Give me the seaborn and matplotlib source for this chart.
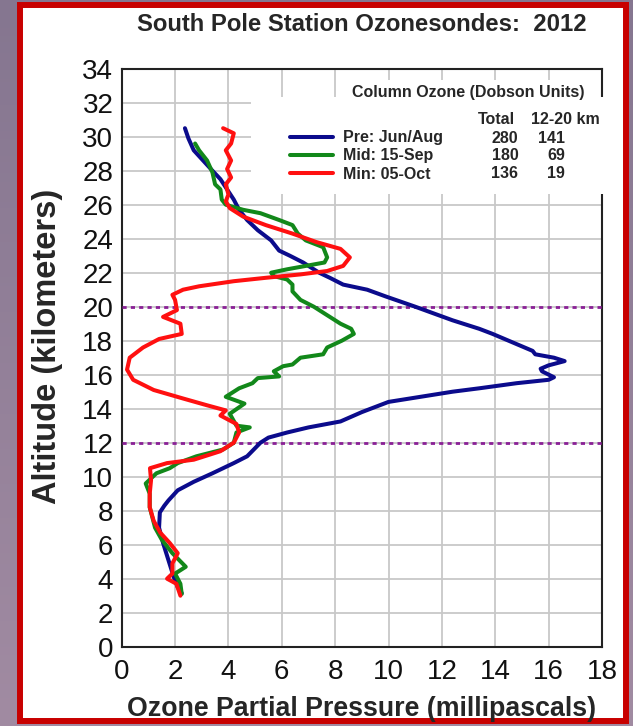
import numpy as np
import pandas as pd
import matplotlib
matplotlib.use("Agg")
import matplotlib.pyplot as plt
from matplotlib.patches import Rectangle
from matplotlib.lines import Line2D
import seaborn as sns

# profile readings (ozone partial pressure mPa, altitude km), bottom -> top
pre_mpa = [2.25, 2.1, 1.95, 1.75, 1.55, 1.4, 1.43, 1.6, 1.75, 2.1, 2.7, 3.4, 4.2, 4.7,
           5.2, 5.5, 6.2, 7.0, 8.2, 9.0, 10.0, 11.2, 12.4, 13.4, 14.8, 16.0, 16.2, 15.75,
           15.7, 16.0, 16.6, 16.2, 15.5, 15.4, 15.1, 14.5, 13.9, 13.4, 12.4, 11.0, 9.9,
           9.2, 8.3, 7.8, 7.4, 6.8, 6.3, 5.9, 5.6, 5.1, 4.7, 4.4, 4.2, 3.95, 3.7, 3.4,
           3.05, 2.7, 2.5, 2.37]
pre_km = [3.15, 3.5, 4.1, 5.1, 6.1, 7.0, 7.9, 8.3, 8.6, 9.2, 9.7, 10.2, 10.8, 11.2,
          12.0, 12.3, 12.6, 12.9, 13.25, 13.8, 14.4, 14.7, 15.0, 15.2, 15.5, 15.7, 15.85,
          16.2, 16.35, 16.55, 16.8, 17.0, 17.2, 17.4, 17.6, 18.0, 18.4, 18.7, 19.2, 20.0,
          20.6, 21.0, 21.3, 21.7, 22.0, 22.6, 23.0, 23.3, 23.9, 24.5, 25.1, 25.7, 26.3,
          26.9, 27.5, 28.0, 28.6, 29.2, 29.9, 30.5]

mid_mpa = [2.25, 2.2, 2.0, 2.4, 1.9, 1.5, 1.25, 1.05, 1.05, 0.9, 1.3, 1.8, 2.1, 2.8,
           3.8, 4.2, 4.3, 4.8, 4.3, 4.05, 4.6, 3.9, 4.4, 4.9, 5.1, 5.9, 5.7, 6.05, 6.4,
           6.7, 7.55, 7.7, 8.25, 8.7, 8.6, 8.2, 7.6, 7.2, 6.7, 6.4, 6.4, 6.2, 5.7, 5.6,
           6.2, 6.9, 7.6, 7.7, 7.55, 6.9, 6.6, 6.4, 5.9, 5.2, 4.55, 3.9, 3.75, 3.7, 3.5,
           3.4, 3.2, 2.9, 2.75]
mid_km = [3.1, 3.7, 4.3, 4.7, 5.5, 6.3, 7.0, 8.2, 9.0, 9.6, 10.2, 10.5, 10.8, 11.2,
          11.6, 12.0, 12.6, 12.9, 13.0, 13.7, 14.3, 14.7, 15.2, 15.5, 15.8, 15.9, 16.2,
          16.5, 16.6, 17.0, 17.2, 17.6, 18.0, 18.4, 18.7, 19.0, 19.6, 20.0, 20.4, 20.9,
          21.3, 21.6, 21.8, 22.0, 22.2, 22.4, 22.6, 22.9, 23.5, 23.9, 24.3, 24.8, 25.1,
          25.5, 25.7, 26.0, 26.3, 26.9, 27.2, 27.9, 28.6, 29.2, 29.6]

min_mpa = [2.2, 2.05, 1.7, 1.9, 1.9, 2.1, 1.8, 1.45, 1.2, 1.05, 1.05, 1.1, 1.06, 1.7,
           2.7, 3.7, 4.2, 4.4, 4.3, 3.7, 3.9, 3.2, 2.3, 1.2, 0.43, 0.2, 0.3, 0.8, 1.4,
           2.25, 2.2, 1.55, 2.07, 2.0, 1.9, 2.3, 2.9, 4.2, 5.4, 6.7, 7.7, 8.3, 8.55, 8.2,
           7.3, 6.4, 5.4, 4.55, 4.05, 3.9, 4.0, 3.9, 4.1, 3.95, 4.1, 3.9, 4.1, 4.2, 3.8]
min_km = [3.0, 3.7, 4.0, 4.3, 4.9, 5.5, 6.1, 6.7, 7.4, 8.2, 9.0, 9.8, 10.5, 10.8,
          11.0, 11.5, 12.0, 12.6, 13.1, 13.6, 13.9, 14.2, 14.6, 15.1, 15.7, 16.3, 17.0,
          17.6, 18.1, 18.4, 19.0, 19.4, 19.8, 20.4, 20.7, 21.0, 21.2, 21.5, 21.7, 21.9,
          22.1, 22.4, 22.9, 23.4, 23.8, 24.3, 24.8, 25.3, 25.8, 26.2, 26.6, 27.2, 27.6,
          28.1, 28.6, 29.2, 29.6, 30.2, 30.5]

profiles = ["Pre: Jun/Aug", "Mid: 15-Sep", "Min: 05-Oct"]
colors = ["#0b0b8c", "#12881a", "#ff1010"]
total_du = ["280", "180", "136"]
layer_du = ["141", "69", "19"]
boundaries_km = [12, 20]

df = pd.concat([
    pd.DataFrame({"pressure": pre_mpa, "altitude": pre_km, "profile": profiles[0]}),
    pd.DataFrame({"pressure": mid_mpa, "altitude": mid_km, "profile": profiles[1]}),
    pd.DataFrame({"pressure": min_mpa, "altitude": min_km, "profile": profiles[2]}),
], ignore_index=True)

sns.set_style("whitegrid", {"grid.color": "#c8c8c8", "axes.edgecolor": "black"})
plt.rcParams["font.family"] = ["Liberation Sans", "DejaVu Sans"]

fig = plt.figure(figsize=(6.33, 7.26), dpi=100)

# purple slide background with a vertical gradient
bg = fig.add_axes([0, 0, 1, 1], zorder=-10)
grad = np.linspace(0, 1, 256).reshape(-1, 1)
cmap = matplotlib.colors.LinearSegmentedColormap.from_list("bg", ["#857690", "#a18ba2"])
bg.imshow(grad, aspect="auto", cmap=cmap, extent=[0, 1, 0, 1], origin="upper")
bg.set_axis_off()

# white panel with a red frame
W, H = 633.0, 726.0
fig.patches.append(Rectangle((20 / W, 5 / H), 606 / W, 716 / H, transform=fig.transFigure,
                             facecolor="white", edgecolor="#c80000", linewidth=4.3, zorder=-5))

ax = fig.add_axes([121.7 / W, 79.3 / H, 480.3 / W, 578 / H])
ax.set_facecolor("white")

sns.lineplot(data=df, x="pressure", y="altitude", hue="profile", palette=colors,
             hue_order=profiles, sort=False, estimator=None, linewidth=2.9,
             legend=False, ax=ax, zorder=4)

for b in boundaries_km:
    ax.axhline(b, color="#8a2096", linewidth=2, linestyle=(0, (1.5, 1.5)), zorder=3)

ax.set_xlim(0, 18)
ax.set_ylim(0, 34)
ax.set_xticks(range(0, 19, 2))
ax.set_yticks(range(0, 35, 2))
ax.tick_params(axis="both", length=0, labelsize=20, colors="#111111")
ax.tick_params(axis="x", pad=9)
ax.tick_params(axis="y", pad=6)
ax.grid(True, color="#c8c8c8", linewidth=1.3)
ax.set_axisbelow(True)
for s in ax.spines.values():
    s.set_color("#222222")
    s.set_linewidth(1.5)

ax.set_xlabel("Ozone Partial Pressure (millipascals)", fontsize=19.3, fontweight="bold")
ax.set_ylabel("Altitude (kilometers)", fontsize=23.5, fontweight="bold")
ax.xaxis.set_label_coords(0.5, -0.085)
ax.yaxis.set_label_coords(-0.122, 0.52)
ax.set_title("South Pole Station Ozonesondes:  2012", fontsize=17.2, fontweight="bold", pad=27)

# white boxes that hold the legend / column-ozone table
ax.add_patch(Rectangle((0.269, 0.783), 0.735, 0.168, transform=ax.transAxes,
                       facecolor="white", edgecolor="none", zorder=2.6, clip_on=False))
ax.add_patch(Rectangle((0.471, 0.951), 0.523, 0.029, transform=ax.transAxes,
                       facecolor="white", edgecolor="none", zorder=2.6, clip_on=False))

tkw = dict(transform=ax.transAxes, fontsize=11.5, fontweight="bold", va="center", zorder=5)
ax.text(0.721, 0.958, "Column Ozone (Dobson Units)", ha="center", **tkw)
ax.text(0.78, 0.912, "Total", ha="center", **tkw)
ax.text(0.923, 0.912, "12-20 km", ha="center", **tkw)

handles = [Line2D([], [], color=c, linewidth=2.9) for c in colors]
leg = ax.legend(handles, profiles, loc="center left", bbox_to_anchor=(0.351, 0.849),
                frameon=False, borderpad=0, borderaxespad=0, handlelength=2.7,
                handletextpad=0.6, labelspacing=0.2,
                prop={"size": 11.5, "weight": "bold", "family": ["Liberation Sans"]})
leg.set_zorder(5)

row_y = [0.880, 0.849, 0.818]
for y, t, l in zip(row_y, total_du, layer_du):
    ax.text(0.798, y, t, ha="center", **tkw)
    ax.text(0.923, y, l, ha="right", **tkw)

fig.savefig("out.png", dpi=100, facecolor=fig.get_facecolor())
